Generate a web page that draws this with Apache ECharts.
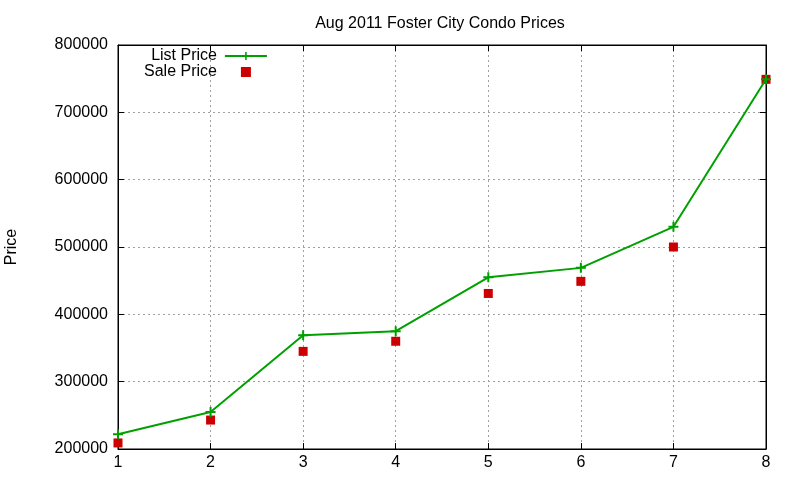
<!DOCTYPE html>
<html>
<head>
<meta charset="utf-8">
<script src="https://cdn.jsdelivr.net/npm/echarts@6/dist/echarts.min.js"></script>
<style>
  html, body { margin: 0; padding: 0; background: #fff; }
  #main { width: 800px; height: 480px; }
</style>
</head>
<body>
<div id="main"></div>
<script>
// 数据
var xValues = [1, 2, 3, 4, 5, 6, 7, 8];
var listPrice = [222000, 255000, 369000, 375000, 455000, 469000, 530000, 749000];
var salePrice = [209000, 243000, 345000, 360000, 431000, 449000, 500000, 749000];

var fontFamily = '"Liberation Sans", Arial, sans-serif';
var crossPath = 'path://M4,0H6V4H10V6H6V10H4V6H0V4H4Z';
var squarePath = 'path://M0,0H10V10H0Z';

function pairs(xs, ys) {
  return xs.map(function (x, i) { return [x, ys[i]]; });
}

var gridLine = {
  show: true,
  lineStyle: { color: '#a0a0a0', width: 1, type: [2, 3] }
};

var myChart = echarts.init(document.getElementById('main'));
myChart.setOption({
  animation: false,
  textStyle: { fontFamily: fontFamily },
  title: {
    text: 'Aug 2011 Foster City Condo Prices',
    left: 435,
    textAlign: 'center',
    top: 11,
    textStyle: { fontSize: 16, fontWeight: 'normal', color: '#000', fontFamily: fontFamily }
  },
  legend: {
    orient: 'vertical',
    align: 'right',
    left: 139,
    top: 43,
    itemWidth: 42,
    itemHeight: 10,
    itemGap: 0,
    symbolKeepAspect: true,
    textStyle: { fontSize: 16, lineHeight: 16, color: '#000', fontFamily: fontFamily, padding: [0, 3, 0, 0] },
    data: [
      { name: 'List Price' },
      { name: 'Sale Price', icon: squarePath }
    ]
  },
  grid: {
    left: 118,
    right: 34,
    top: 45,
    bottom: 31,
    outerBoundsMode: 'none',
    show: true,
    borderColor: '#000',
    borderWidth: 1
  },
  xAxis: [{
    type: 'value',
    min: 1,
    max: 8,
    interval: 1,
    axisLine: { lineStyle: { color: '#000' } },
    axisTick: { inside: true, length: 6, lineStyle: { color: '#000' } },
    axisLabel: {
      fontSize: 16, color: '#000', margin: 6, fontFamily: fontFamily,
      alignMinLabel: 'center', alignMaxLabel: 'center'
    },
    splitLine: gridLine
  }, {
    type: 'value',
    position: 'top',
    min: 1,
    max: 8,
    interval: 1,
    axisLine: { lineStyle: { color: '#000' } },
    axisTick: { inside: true, length: 6, lineStyle: { color: '#000' } },
    axisLabel: { show: false },
    splitLine: { show: false }
  }],
  yAxis: [{
    type: 'value',
    min: 200000,
    max: 800000,
    interval: 100000,
    name: 'Price',
    nameLocation: 'middle',
    nameGap: 98,
    nameTextStyle: { fontSize: 16, color: '#000', fontFamily: fontFamily },
    axisLine: { show: true, lineStyle: { color: '#000' } },
    axisTick: { show: true, inside: true, length: 6, lineStyle: { color: '#000' } },
    axisLabel: {
      fontSize: 16, color: '#000', margin: 10, fontFamily: fontFamily,
      formatter: function (val) { return String(val); }
    },
    splitLine: gridLine
  }, {
    type: 'value',
    position: 'right',
    min: 200000,
    max: 800000,
    interval: 100000,
    axisLine: { show: true, lineStyle: { color: '#000' } },
    axisTick: { show: true, inside: true, length: 6, lineStyle: { color: '#000' } },
    axisLabel: { show: false },
    splitLine: { show: false }
  }],
  series: [{
    name: 'List Price',
    type: 'line',
    clip: false,
    data: pairs(xValues, listPrice),
    symbol: crossPath,
    symbolSize: 10,
    showSymbol: true,
    lineStyle: { color: '#00a000', width: 2 },
    itemStyle: { color: '#00a000' },
    z: 3
  }, {
    name: 'Sale Price',
    type: 'scatter',
    clip: false,
    data: pairs(xValues, salePrice),
    symbol: 'rect',
    symbolSize: 9,
    itemStyle: { color: '#cc0000', opacity: 1 },
    z: 2
  }]
});
</script>
</body>
</html>
